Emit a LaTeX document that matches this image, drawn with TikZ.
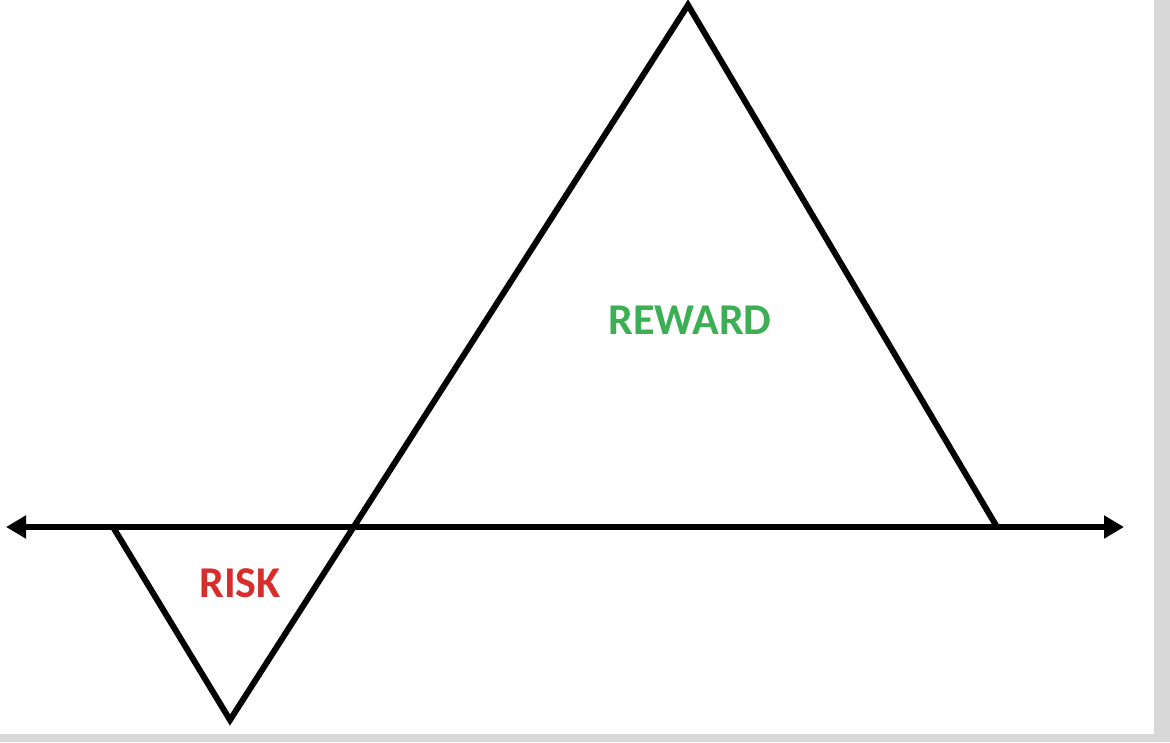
\documentclass[tikz,border=0pt]{standalone}
\usepackage{fontspec}
\setmainfont{Carlito}
\usetikzlibrary{arrows.meta}
\definecolor{riskred}{RGB}{214,45,45}
\definecolor{rewgreen}{RGB}{60,175,85}
\definecolor{frame}{RGB}{216,216,216}
\begin{document}
\begin{tikzpicture}[x=1pt,y=-1pt,
  line/.style={line width=6pt,line join=miter},
  lbl/.style={font=\bfseries\fontsize{44}{44}\selectfont}]
\fill[frame] (0,0) rectangle (1170,742);
\fill[white] (0,0) rectangle (1154,734);
\useasboundingbox (0,0) rectangle (1170,742);
\coordinate (L) at (6,527);
\coordinate (R) at (1124,527);
\coordinate (a) at (113,527);
\coordinate (b) at (230,720);
\coordinate (c) at (688,5);
\coordinate (d) at (997,527);
\draw[line,{Triangle[length=20pt,width=22pt]}-{Triangle[length=20pt,width=22pt]}] (L) -- (R);
\draw[line] (a) -- (b) -- (c) -- (d);
\node[lbl,text=riskred] (risk) at (240,583) {RISK};
\node[lbl,text=rewgreen] (reward) at (690,320) {REWARD};
\end{tikzpicture}
\end{document}
